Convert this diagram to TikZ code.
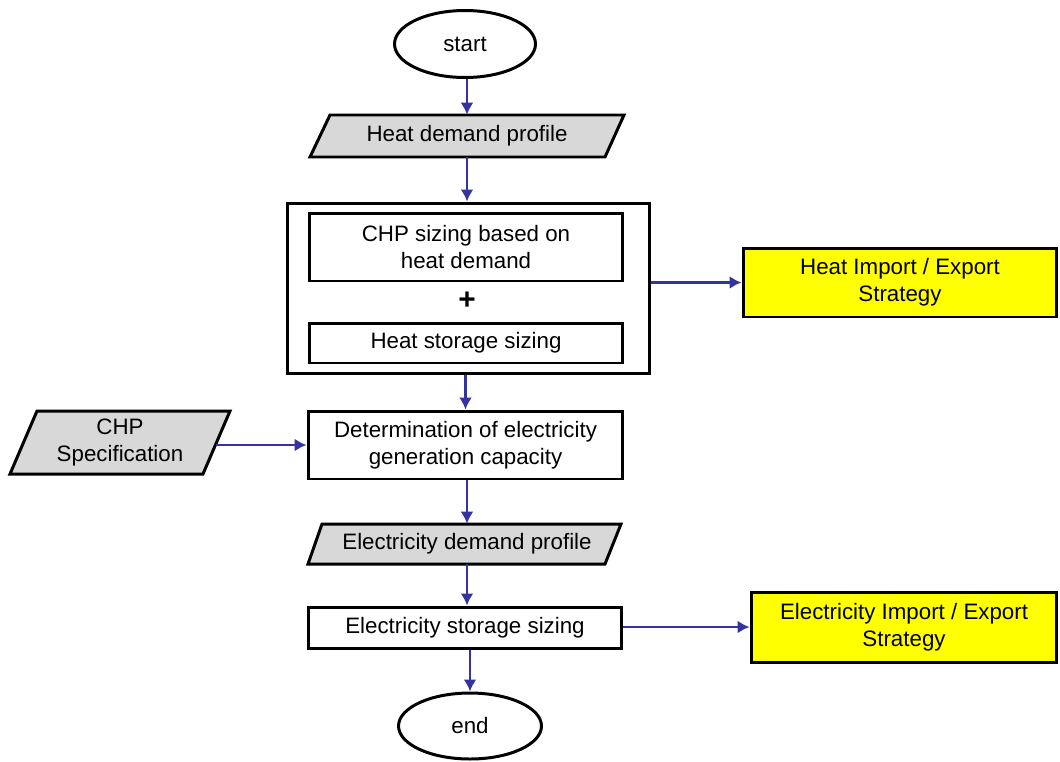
\documentclass[tikz,border=0pt]{standalone}
\usepackage{fontspec}
\setmainfont{Liberation Sans}
\usetikzlibrary{shapes.geometric,arrows.meta,calc}
\definecolor{arrowblue}{RGB}{52,52,158}
\definecolor{paragray}{RGB}{216,216,216}
\definecolor{stratyellow}{RGB}{255,255,0}
\begin{document}
\begin{tikzpicture}[x=0.02cm,y=-0.02cm,
  every node/.style={font=\fontsize{12.7}{15.6}\selectfont, align=center, inner sep=0pt},
  procbox/.style={draw=black, line width=1.7pt, fill=white, rectangle},
  stratbox/.style={draw=black, line width=1.7pt, fill=stratyellow, rectangle},
  termin/.style={draw=black, line width=1.7pt, ellipse, fill=white},
  paratext/.style={draw=none, rectangle},
  parashape/.style={draw=black, line width=1.7pt, fill=paragray, line join=miter},
  flow/.style={draw=arrowblue, line width=1.5pt, -{Latex[length=2.4mm,width=2.6mm]}}
]
\useasboundingbox (0,0) rectangle (1060,761);

% start
\node[termin, minimum width=2.82cm, minimum height=1.34cm] (start) at (465,44) {start};

% heat demand profile (parallelogram)
\filldraw[parashape] (310,157) -- (605,157) -- (624,115) -- (330,115) -- cycle;
\node[paratext, minimum width=5.9cm, minimum height=0.84cm] (hdp) at (467,136) {Heat demand profile};

% outer box with two inner boxes
\node[procbox, minimum width=7.26cm, minimum height=3.42cm] (outer) at (468.5,288.5) {};
\node[procbox, minimum width=6.28cm, minimum height=1.36cm] (chps) at (466,247) {CHP sizing based on\\heat demand};
\node[font=\fontsize{17}{17}\selectfont\bfseries] (plus) at (467,301) {+};
\node[procbox, minimum width=6.28cm, minimum height=0.8cm] (hss) at (466,343) {Heat storage sizing};

% heat import/export
\node[stratbox, minimum width=6.28cm, minimum height=1.38cm] (hie) at (900,282.5) {Heat Import / Export\\Strategy};

% CHP specification (parallelogram)
\filldraw[parashape] (10,474) -- (203,474) -- (230,411) -- (37,411) -- cycle;
\node[paratext, minimum width=3.84cm, minimum height=1.26cm] (chpspec) at (120,442.5) {CHP\\Specification};

% determination
\node[procbox, minimum width=6.3cm, minimum height=1.36cm] (det) at (465.5,445) {Determination of electricity\\generation capacity};

% electricity demand profile (parallelogram)
\filldraw[parashape] (308,564) -- (605,564) -- (621,524) -- (322,524) -- cycle;
\node[paratext, minimum width=6.0cm, minimum height=0.8cm] (edp) at (467,544) {Electricity demand profile};

% electricity storage sizing
\node[procbox, minimum width=6.28cm, minimum height=0.82cm] (ess) at (465,627.5) {Electricity storage sizing};

% electricity import/export
\node[stratbox, minimum width=6.12cm, minimum height=1.4cm] (eie) at (904,627) {Electricity Import / Export\\Strategy};

% end
\node[termin, minimum width=2.86cm, minimum height=1.32cm] (end) at (470,726) {end};

% connectors
\draw[flow] (start.south -| hdp.north) -- (hdp.north);
\draw[flow] (hdp.south) -- (hdp.south |- outer.north);
\draw[flow] (outer.east |- hie.west) -- (hie.west);
\draw[flow] (det.north |- outer.south) -- (det.north);
\draw[flow] (chpspec.east |- det.west) -- (det.west);
\draw[flow] (det.south -| edp.south) -- (edp.north);
\draw[flow] (edp.south) -- (edp.south |- ess.north);
\draw[flow] (ess.east |- eie.west) -- (eie.west);
\draw[flow] (ess.south -| end.north) -- (end.north);
\end{tikzpicture}
\end{document}
